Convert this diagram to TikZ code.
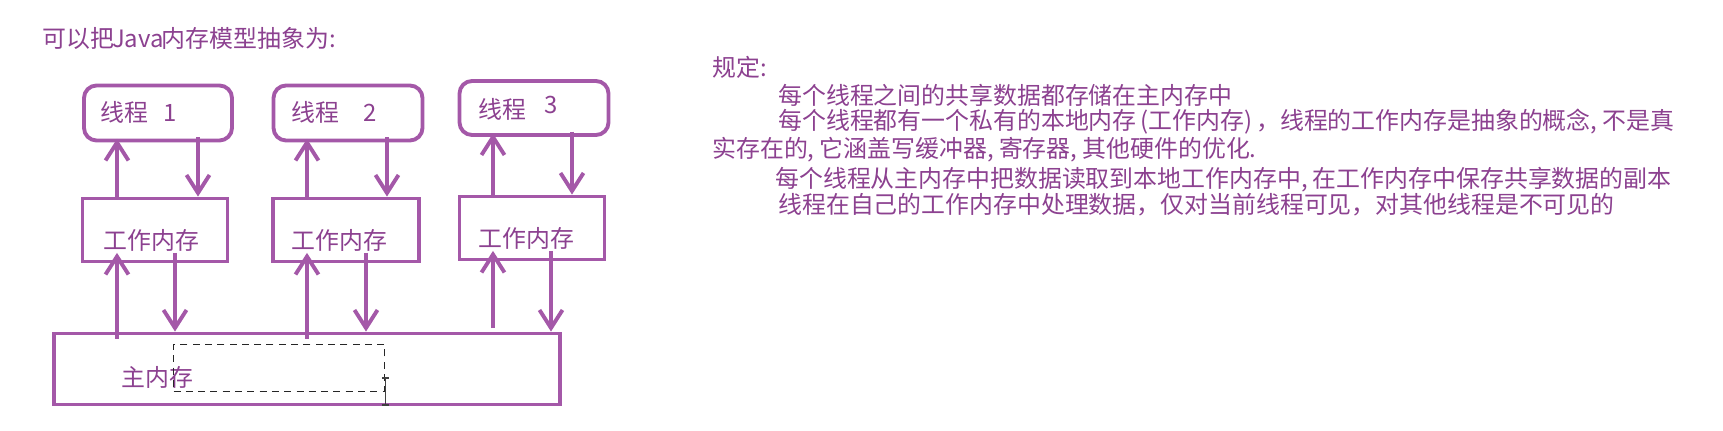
\documentclass[tikz,border=0pt]{standalone}
\usepackage{fontspec}
\usetikzlibrary{arrows.meta}
\newfontfamily\cjk{Noto Sans CJK SC}
\definecolor{memline}{HTML}{A458A8}
\definecolor{memtext}{HTML}{8C4190}
\newcommand\hw[1]{\makebox[0.5em][l]{#1}}
\newcommand\hwr[1]{\makebox[0.5em][r]{#1}}

\begin{document}
\begin{tikzpicture}[
  x=0.02cm, y=-0.02cm,
  every node/.style={inner sep=0pt, text=memtext, font=\cjk\fontsize{13.6pt}{16pt}\selectfont},
  thread/.style={draw=memline, line width=2.2pt, rounded corners=0.25cm, minimum height=1.1cm},
  membox/.style={draw=memline, line width=2.2pt, minimum height=1.26cm},
  flow/.style={draw=memline, line width=2.2pt, -{Straight Barb[length=3.6mm, width=4.6mm]}},
  note/.style={anchor=west}
  ]

  \path[fill=white] (0,0) rectangle (1723,431);
  \useasboundingbox (0,0) rectangle (1723,431);

  % Define nodes
  \node[note] (title) at (42,38) {可以把\makebox[2em]{Java}内存模型抽象为\hw{:}};

  \node[thread, minimum width=2.96cm] (thread1) at (158,113) {};
  \node[thread, minimum width=2.98cm] (thread2) at (348,113) {};
  \node[thread, minimum width=2.98cm, minimum height=1.08cm] (thread3) at (534,108) {};

  \node[membox, minimum width=2.9cm] (work1) at (155,230) {};
  \node[membox, minimum width=2.92cm] (work2) at (346,230) {};
  \node[membox, minimum width=2.9cm] (work3) at (532,228) {};

  \node[draw=memline, line width=2.2pt, minimum width=10.12cm, minimum height=1.42cm] (main) at (307,369) {};

  % Box texts
  \node[note] (t1) at (100,112) {线程\hspace{0.3cm}1};
  \node[note] (t2) at (291,112) {线程\hspace{0.48cm}2};
  \node[note] (t3) at (478,108) {线程\hspace{0.36cm}\raisebox{3pt}{3}};
  \node[note] (w1) at (103,240) {工作内存};
  \node[note] (w2) at (291,240) {工作内存};
  \node[note] (w3) at (478,238) {工作内存};
  \node[note] (m) at (121,377) {主内存};

  % Arrow columns
  \coordinate (up1) at (117,0);
  \coordinate (dn1) at (198,0);
  \coordinate (lo1) at (175,0);
  \coordinate (up2) at (307,0);
  \coordinate (dn2) at (387,0);
  \coordinate (lo2) at (366,0);
  \coordinate (up3) at (493,0);
  \coordinate (dn3) at (572,0);
  \coordinate (lo3) at (551,0);

  % Thread <-> working memory
  \draw[flow, shorten >=-2pt] (work1.north -| up1) -- (thread1.south -| up1);
  \draw[flow, shorten <=-3pt] (thread1.south -| dn1) -- (work1.north -| dn1);
  \draw[flow, shorten >=-2pt] (work2.north -| up2) -- (thread2.south -| up2);
  \draw[flow, shorten <=-3pt] (thread2.south -| dn2) -- (work2.north -| dn2);
  \draw[flow, shorten >=-2pt] (work3.north -| up3) -- (thread3.south -| up3);
  \draw[flow, shorten <=-3pt] (thread3.south -| dn3) -- (work3.north -| dn3);

  % Working memory <-> main memory
  \draw[flow, shorten <=-4pt, shorten >=-6pt] (main.north -| up1) -- (work1.south -| up1);
  \draw[flow, shorten <=-6pt] (work1.south -| lo1) -- (main.north -| lo1);
  \draw[flow, shorten <=-4pt, shorten >=-6pt] (main.north -| up2) -- (work2.south -| up2);
  \draw[flow, shorten <=-6pt] (work2.south -| lo2) -- (main.north -| lo2);
  \draw[flow, shorten <=2pt, shorten >=-6pt] (main.north -| up3) -- (work3.south -| up3);
  \draw[flow, shorten <=-6pt] (work3.south -| lo3) -- (main.north -| lo3);

  % Selection box and cursor
  \node[draw=black!85, dash pattern=on 4pt off 3pt, line width=1pt, minimum width=4.22cm, minimum height=0.94cm] (sel) at (279,368) {};
  \coordinate (cur) at (sel.east);
  \draw[black!75, line width=0.8pt] ([yshift=-0.2cm]cur) -- ([yshift=-0.74cm]cur);
  \draw[black!75, line width=0.6pt] ([xshift=-2pt, yshift=-0.2cm]cur) -- ([xshift=2pt, yshift=-0.2cm]cur);
  \draw[black!75, line width=0.6pt] ([xshift=-2pt, yshift=-0.74cm]cur) -- ([xshift=2pt, yshift=-0.74cm]cur);

  % Rules text
  \node[note] (rule0) at (712,67) {规定\hw{:}};
  \node[note] (rule1) at (778,95) {每个线程之间的共享数据都存储在主内存中};
  \node[note] (rule2) at (778,122) {每个线程都有一个私有的本地内存\hwr{(}工作内存\hw{)}，线程的工作内存是抽象的概念\hw{,}不是真};
  \node[note] (rule3) at (712,150) {实存在的\hw{,}它涵盖写缓冲器\hw{,}寄存器\hw{,}其他硬件的优化\hw{.}};
  \node[note] (rule4) at (775,180) {每个线程从主内存中把数据读取到本地工作内存中\hw{,}在工作内存中保存共享数据的副本};
  \node[note] (rule5) at (778,205) {线程在自己的工作内存中处理数据，仅对当前线程可见，对其他线程是不可见的};

\end{tikzpicture}
\end{document}
